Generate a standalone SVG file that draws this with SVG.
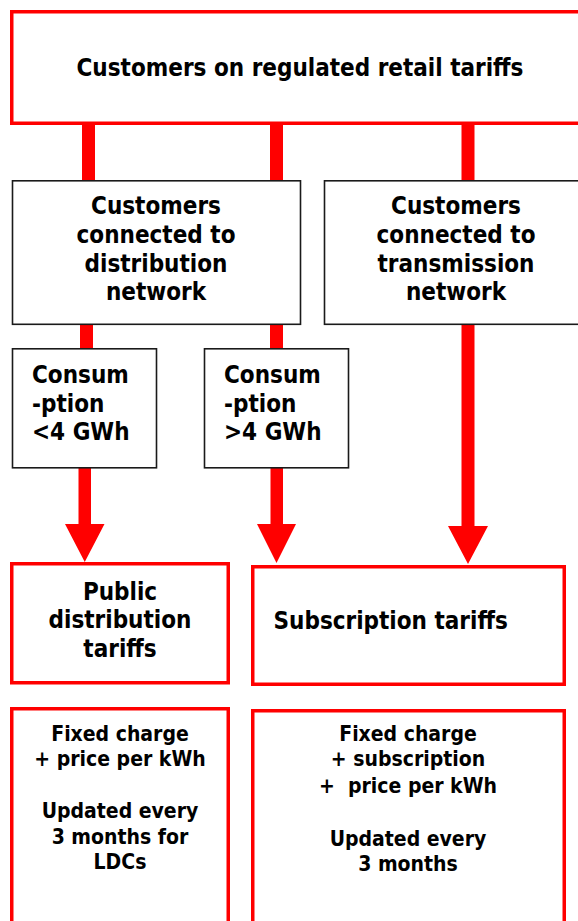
<svg xmlns="http://www.w3.org/2000/svg" width="578" height="921" viewBox="0 0 578 921">
<style>
  .red { fill: #ffffff; stroke: #ff0000; stroke-width: 3.5; }
  .blk { fill: #ffffff; stroke: #1a1a1a; stroke-width: 1.6; }
  .bar { fill: #ff0000; stroke: none; }
  text { font-family: "DejaVu Sans Condensed", "DejaVu Sans", sans-serif; font-stretch: condensed; font-weight: bold; fill: #000000; }
  .t24 { font-size: 24px; }
  .t21 { font-size: 21px; }
  .c { text-anchor: middle; }
  .pre { white-space: pre; }
</style>
<rect x="0" y="0" width="578" height="921" fill="#ffffff"/>
<g id="connectors">
  <rect class="bar" x="82" y="122" width="13" height="60"/>
  <rect class="bar" x="270" y="122" width="13" height="60"/>
  <rect class="bar" x="461.5" y="122" width="13" height="60"/>
  <rect class="bar" x="80" y="324" width="13" height="25"/>
  <rect class="bar" x="270" y="324" width="13" height="25"/>
  <path class="bar" d="M78.5 467 H91 V524 H104.5 L84.75 562 L65 524 H78.5 Z"/>
  <path class="bar" d="M270.5 467 H283 V524 H296 L276.5 563 L257 524 H270.5 Z"/>
  <path class="bar" d="M461.5 324 H474.5 V526 H488 L468 564 L448 526 H461.5 Z"/>
</g>
<g id="n-top">
  <rect class="red" x="11.75" y="11.75" width="580" height="111.5"/>
  <text class="t24 c" x="300" y="76">Customers on regulated retail tariffs</text>
</g>
<g id="n-dist">
  <rect class="blk" x="12.5" y="180.8" width="288" height="143.5"/>
  <text class="t24 c" x="156" y="214">Customers</text>
  <text class="t24 c" x="156" y="243">connected to</text>
  <text class="t24 c" x="156" y="272">distribution</text>
  <text class="t24 c" x="156" y="300">network</text>
</g>
<g id="n-trans">
  <rect class="blk" x="324.5" y="180.8" width="270" height="143.5"/>
  <text class="t24 c" x="456" y="214">Customers</text>
  <text class="t24 c" x="456" y="243">connected to</text>
  <text class="t24 c" x="456" y="272">transmission</text>
  <text class="t24 c" x="456" y="300">network</text>
</g>
<g id="n-cons-low">
  <rect class="blk" x="12.5" y="348.8" width="144" height="119"/>
  <text class="t24" x="32" y="383">Consum</text>
  <text class="t24" x="32" y="412">-ption</text>
  <text class="t24" x="32" y="440">&lt;4 GWh</text>
</g>
<g id="n-cons-high">
  <rect class="blk" x="204.5" y="348.8" width="144" height="119"/>
  <text class="t24" x="224" y="383">Consum</text>
  <text class="t24" x="224" y="412">-ption</text>
  <text class="t24" x="224" y="440">&gt;4 GWh</text>
</g>
<g id="n-public">
  <rect class="red" x="11.75" y="563.75" width="216.5" height="119"/>
  <text class="t24 c" x="120" y="600">Public</text>
  <text class="t24 c" x="120" y="628">distribution</text>
  <text class="t24 c" x="120" y="657">tariffs</text>
</g>
<g id="n-subscription">
  <rect class="red" x="252.75" y="566.75" width="311.5" height="117.5"/>
  <text class="t24" x="273.5" y="629">Subscription tariffs</text>
</g>
<g id="n-public-detail">
  <rect class="red" x="11.75" y="708.75" width="216.5" height="240"/>
  <text class="t21 c" x="120" y="741">Fixed charge</text>
  <text class="t21 c" x="120" y="766">+ price per kWh</text>
  <text class="t21 c" x="120" y="818">Updated every</text>
  <text class="t21 c" x="120" y="844">3 months for</text>
  <text class="t21 c" x="120" y="869">LDCs</text>
</g>
<g id="n-subscription-detail">
  <rect class="red" x="252.75" y="710.75" width="311.5" height="240"/>
  <text class="t21 c" x="408" y="741">Fixed charge</text>
  <text class="t21 c" x="408" y="766">+ subscription</text>
  <text class="t21 c pre" x="408" y="793">+  price per kWh</text>
  <text class="t21 c" x="408" y="846">Updated every</text>
  <text class="t21 c" x="408" y="871">3 months</text>
</g>
</svg>
